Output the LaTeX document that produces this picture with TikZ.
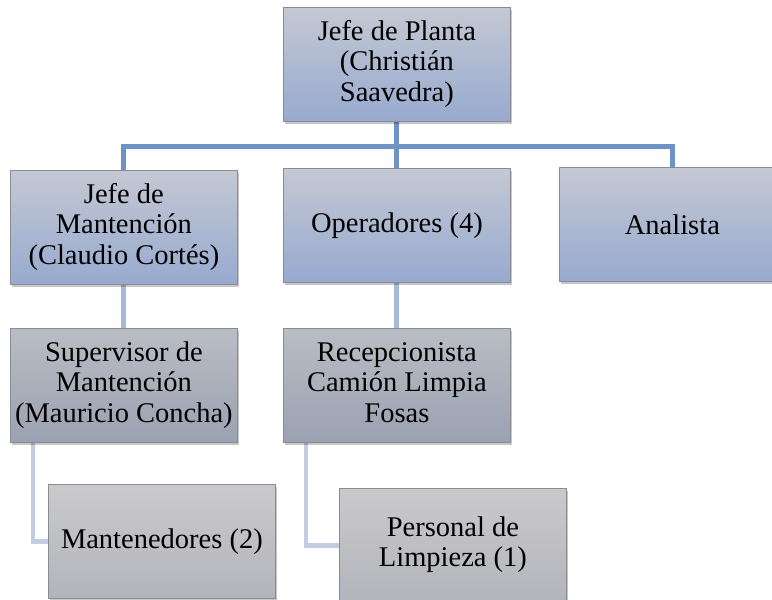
\documentclass[tikz,border=0pt]{standalone}
\usepackage{fontspec}
\setmainfont{Liberation Serif}
\usetikzlibrary{shadows}
\pgfdeclarelayer{background}
\pgfdeclarelayer{canvas}
\pgfsetlayers{canvas,background,main}
\definecolor{lineA}{HTML}{6F93C6}
\definecolor{lineB}{HTML}{A8BAD9}
\definecolor{lineC}{HTML}{C3CCE0}
\definecolor{bdr}{HTML}{8A8C92}
\definecolor{lvAtop}{HTML}{C4C8D3}
\definecolor{lvAbot}{HTML}{97AACF}
\definecolor{lvBtop}{HTML}{BABDC4}
\definecolor{lvBbot}{HTML}{9AA1B1}
\definecolor{lvCtop}{HTML}{CACACC}
\definecolor{lvCbot}{HTML}{B3B4BA}
\newcommand{\mlines}[1]{\raisebox{-4pt}{\begin{tabular}{@{}c@{}}#1\end{tabular}}}
\tikzset{
  box/.style={draw=bdr, line width=0.8pt, anchor=north west, minimum width=227pt, minimum height=114pt,
    align=center, inner sep=0pt, font=\fontsize{28.5}{30.5}\selectfont,
    drop shadow={shadow xshift=2pt, shadow yshift=-3pt, fill=black, opacity=0.22}},
  lvA/.style={box, top color=lvAtop, bottom color=lvAbot},
  lvB/.style={box, top color=lvBtop, bottom color=lvBbot},
  lvC/.style={box, top color=lvCtop, bottom color=lvCbot},
  conA/.style={draw=lineA, line width=5pt},
  conB/.style={draw=lineB, line width=5pt},
  conC/.style={draw=lineC, line width=4.5pt},
}
\begin{document}
\begin{tikzpicture}[x=1pt, y=-1pt]
\begin{pgfonlayer}{canvas}
\fill[white] (0,0) rectangle (772,600);
\end{pgfonlayer}
\useasboundingbox (0,0) rectangle (772,600);
\node[lvA] (top) at (283,7) {\mlines{Jefe de Planta\\ (Christián\\ Saavedra)}};
\node[lvA] (jm) at (10,170) {\mlines{Jefe de\\ Mantención\\ (Claudio Cortés)}};
\node[lvA] (op) at (283,168) {Operadores (4)};
\node[lvA, minimum width=226pt, text width=212pt] (an) at (559,167) {Analista};
\node[lvB] (sm) at (10,328) {\mlines{Supervisor de\\ Mantención\\ (Mauricio Concha)}};
\node[lvB] (rc) at (283,328) {\mlines{Recepcionista\\ Camión Limpia\\ Fosas}};
\node[lvC] (mt) at (48,484) {Mantenedores (2)};
\node[lvC] (pl) at (339,488) {\mlines{Personal de\\ Limpieza (1)}};
\begin{pgfonlayer}{background}
\coordinate (hub) at ([yshift=-25pt]top.south);
\draw[conA] (top.south) -- (hub);
\draw[conA] (hub) -| (jm.north);
\draw[conA] (hub) -| (an.north);
\draw[conA] (hub) -- (op.north);
\draw[conB] (jm.south) -- (sm.north);
\draw[conB] (op.south) -- (rc.north);
\draw[conC] ([xshift=23pt]sm.south west) |- (mt.west);
\draw[conC] ([xshift=23pt]rc.south west) |- (pl.west);
\end{pgfonlayer}
\end{tikzpicture}
\end{document}
